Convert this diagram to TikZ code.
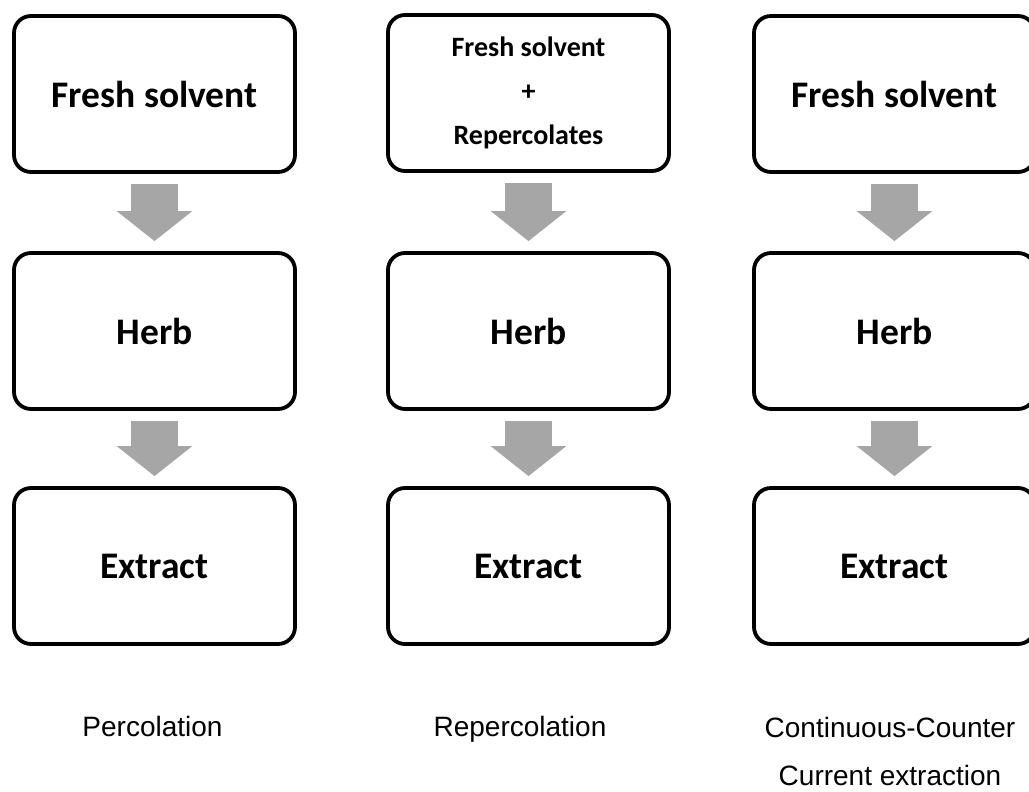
\documentclass[tikz,border=0pt]{standalone}
\usepackage{fontspec}
\setmainfont{Liberation Sans}
\newfontfamily\boxfont{Carlito}
\usetikzlibrary{arrows.meta}
\definecolor{arrgray}{HTML}{A6A6A6}

\begin{document}
\begin{tikzpicture}[x=1pt,y=-1pt,
        box/.style={draw,line width=3.8pt,rounded corners=17pt,minimum width=281pt,minimum height=156pt,align=center,font=\boxfont\bfseries\fontsize{37.5}{44}\selectfont},
        flow/.style={draw=arrgray,line width=47pt,-{Triangle[width=74pt,length=30pt]},shorten <=10pt,shorten >=10pt},
        lbl/.style={inner sep=0pt,align=center,font=\fontsize{28}{48}\selectfont}]
        \useasboundingbox (0,0) rectangle (1029,792);
        \foreach \i/\x in {1/154.5,2/528.5,3/894.5}
        {
            \node[box] (hb\i) at (\x,331){Herb};
            \node[box] (ex\i) at (\x,566){Extract};
        }
        \node[box] (fs1) at (154.5,94){Fresh solvent};
        \node[box,font=\boxfont\bfseries\fontsize{28}{44}\selectfont] (fs2) at (528.5,93){Fresh solvent\\+\\Repercolates};
        \node[box] (fs3) at (894.5,94){Fresh solvent};
        \foreach \i in {1,2,3}
        {
            \draw[flow] (fs\i)--(hb\i);
            \draw[flow] (hb\i)--(ex\i);
        }
        \node[lbl,anchor=base] (pc) at (152.5,736){Percolation};
        \node[lbl,anchor=base] (rp) at (520,736){Repercolation};
        \node[lbl,anchor=north] (cc) at (890,717){Continuous-Counter\\Current extraction};
    \end{tikzpicture}
\end{document}
